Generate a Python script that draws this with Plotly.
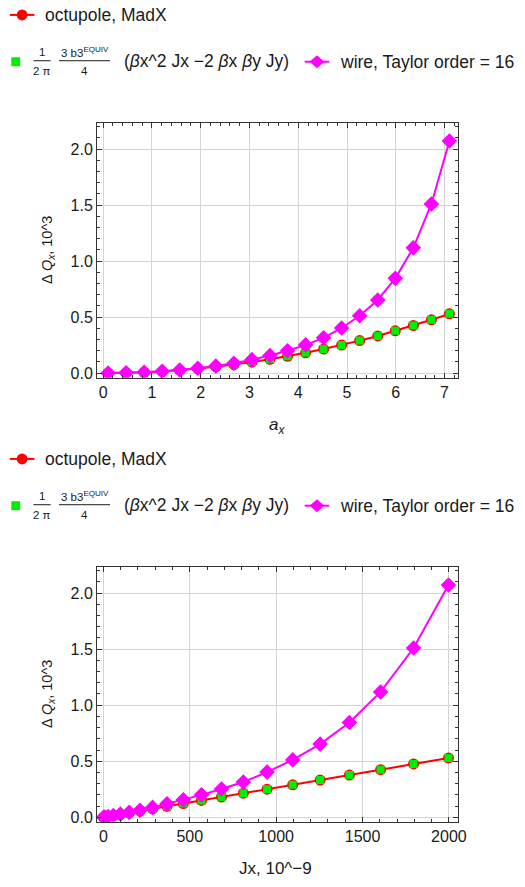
import plotly.graph_objects as go

# Horizontal amplitude (sigma units) and corresponding action Jx (1e-9)
a_x = [0.10, 0.47, 0.84, 1.21, 1.57, 1.94, 2.31, 2.68, 3.05, 3.42,
       3.78, 4.15, 4.52, 4.89, 5.26, 5.63, 5.99, 6.36, 6.73, 7.10]
J_x = [0.4, 8.7, 27.8, 57.6, 98.2, 149.6, 211.7, 284.6, 368.2, 462.6,
       567.7, 683.6, 810.2, 947.6, 1095.7, 1254.6, 1424.2, 1604.6, 1795.7, 1997.6]

# Tune shift Delta Qx (1e-3)
dq_octupole = [0.0001, 0.0023, 0.0074, 0.0153, 0.026, 0.040, 0.056, 0.075, 0.098, 0.123,
               0.150, 0.181, 0.215, 0.251, 0.290, 0.332, 0.377, 0.425, 0.476, 0.529]
dq_b3equiv = [0.0001, 0.0023, 0.0074, 0.0153, 0.026, 0.040, 0.056, 0.075, 0.098, 0.123,
              0.150, 0.181, 0.215, 0.251, 0.290, 0.332, 0.377, 0.425, 0.476, 0.529]
dq_wire = [0.0001, 0.0024, 0.0077, 0.0162, 0.028, 0.044, 0.063, 0.088, 0.120, 0.157,
           0.200, 0.252, 0.315, 0.403, 0.512, 0.653, 0.846, 1.118, 1.510, 2.072]

W, H = 525, 887
RED, GREEN, MAGENTA = "#ff0000", "#00ee00", "#ff00ff"
FONT = "Liberation Sans"
TXT = "#1a1a1a"


def px(x):
    return x / W


def py(y):
    return 1 - y / H


fig = go.Figure()


def add_series(xs, xa, ya):
    fig.add_trace(go.Scatter(x=xs, y=dq_octupole, xaxis=xa, yaxis=ya, mode="lines+markers",
                             line=dict(color=RED, width=2),
                             marker=dict(symbol="circle", size=11, color=RED), showlegend=False))
    fig.add_trace(go.Scatter(x=xs, y=dq_b3equiv, xaxis=xa, yaxis=ya, mode="markers",
                             marker=dict(symbol="square", size=8, color=GREEN), showlegend=False))
    fig.add_trace(go.Scatter(x=xs, y=dq_wire, xaxis=xa, yaxis=ya, mode="lines+markers",
                             line=dict(color=MAGENTA, width=2),
                             marker=dict(symbol="diamond", size=12, color=MAGENTA), showlegend=False))


add_series(a_x, "x", "y")
add_series(J_x, "x2", "y2")

frame = dict(showline=True, linecolor="#333333", linewidth=1, mirror="ticks",
             ticks="inside", ticklen=5, tickcolor="#333333", tickwidth=1,
             showgrid=True, gridcolor="#d4d4d4", gridwidth=1, zeroline=False,
             tickfont=dict(family=FONT, size=16, color=TXT))

yax = dict(frame, range=[-0.04, 2.235], tickvals=[0, 0.5, 1.0, 1.5, 2.0],
           ticktext=["0.0", "0.5", "1.0", "1.5", "2.0"],
           minor=dict(ticks="inside", dtick=0.1, tick0=0, ticklen=3, tickcolor="#333333", showgrid=False))

fig.update_layout(
    width=W, height=H, margin=dict(l=0, r=0, t=0, b=0),
    paper_bgcolor="white", plot_bgcolor="white",
    xaxis=dict(frame, domain=[px(98.7), px(465.7)], range=[-0.127, 7.27], anchor="y",
               tickvals=list(range(8)),
               minor=dict(ticks="inside", dtick=0.2, tick0=0, ticklen=3, tickcolor="#333333", showgrid=False)),
    yaxis=dict(yax, domain=[py(379.3), py(123.3)], anchor="x"),
    xaxis2=dict(frame, domain=[px(98.7), px(465.7)], range=[-37, 2051], anchor="y2",
                tickvals=[0, 500, 1000, 1500, 2000],
                minor=dict(ticks="inside", dtick=100, tick0=0, ticklen=3, tickcolor="#333333", showgrid=False)),
    yaxis2=dict(yax, domain=[py(825.5), py(569.3)], anchor="x2"),
)

ann = []
shapes = []


def text(x, y, s, size=17.5, xanchor="left", angle=0):
    ann.append(dict(x=px(x), y=py(y), xref="paper", yref="paper", text=s, showarrow=False,
                    xanchor=xanchor, yanchor="middle", textangle=angle,
                    font=dict(family=FONT, size=size, color=TXT)))


def hline(x0, x1, y, color, width):
    shapes.append(dict(type="line", xref="paper", yref="paper", x0=px(x0), x1=px(x1),
                       y0=py(y), y1=py(y), line=dict(color=color, width=width)))


def legend_block(dy):
    # octupole entry
    hline(10, 35, 15 + dy, RED, 2)
    shapes.append(dict(type="circle", xref="paper", yref="paper", x0=px(17), x1=px(28),
                       y0=py(20.5 + dy), y1=py(9.5 + dy), fillcolor=RED, line=dict(width=0)))
    text(44, 15 + dy, "octupole, MadX")
    # analytical b3-equivalent entry
    shapes.append(dict(type="rect", xref="paper", yref="paper", x0=px(11.5), x1=px(20.5),
                       y0=py(66.5 + dy), y1=py(57.5 + dy), fillcolor=GREEN, line=dict(width=0)))
    text(42.7, 52 + dy, "1", size=11.5, xanchor="center")
    hline(34, 51.5, 61 + dy, TXT, 1)
    text(42.7, 71.5 + dy, "2 π", size=11.5, xanchor="center")
    text(86, 52 + dy, "3 b3<sup>EQUIV</sup>", size=11.5, xanchor="center")
    hline(60, 112, 61 + dy, TXT, 1)
    text(86, 71.5 + dy, "4", size=11.5, xanchor="center")
    text(124, 61 + dy, "(<i>β</i>x^2 Jx −2 <i>β</i>x <i>β</i>y Jy)")
    # wire entry
    hline(310, 335, 62 + dy, MAGENTA, 2)
    shapes.append(dict(type="path", xref="paper", yref="paper",
                       path="M {} {} L {} {} L {} {} L {} {} Z".format(
                           px(315), py(62 + dy), px(322.5), py(55.5 + dy),
                           px(330), py(62 + dy), px(322.5), py(68.5 + dy)),
                       fillcolor=MAGENTA, line=dict(width=0)))
    text(344, 62 + dy, "wire, Taylor order = 16")


legend_block(0)
legend_block(446)

# axis titles
ytitle = "Δ <i>Q</i><sub><i>x</i></sub>, 10^3"
text(49, 251, ytitle, size=14.5, xanchor="center", angle=-90)
text(49, 697, ytitle, size=14.5, xanchor="center", angle=-90)
text(282, 428, "<i>a</i><sub><i>x</i></sub>", size=17, xanchor="center")
text(280, 872, "Jx, 10^−9", size=17, xanchor="center")

fig.update_layout(annotations=ann, shapes=shapes)
fig.write_html("out.html")
